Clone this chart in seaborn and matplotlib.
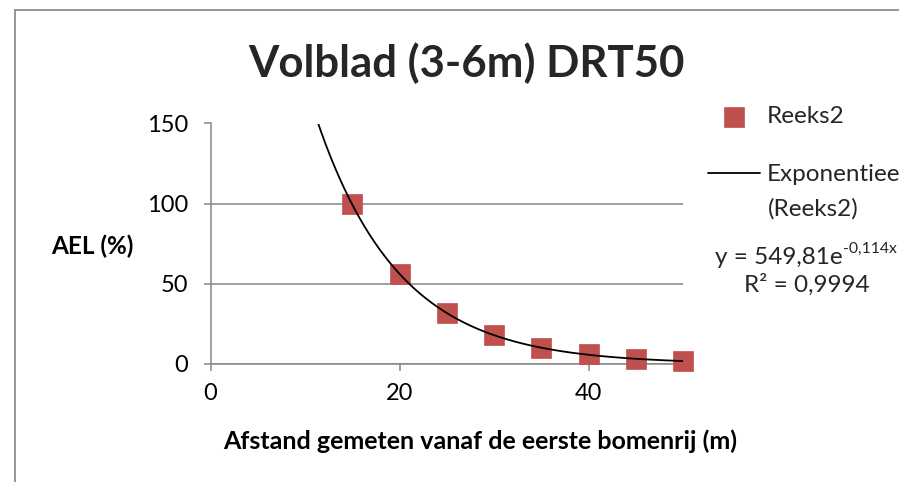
import numpy as np
import pandas as pd
import matplotlib.pyplot as plt
from matplotlib.lines import Line2D
import seaborn as sns

# data
afstand = [15, 20, 25, 30, 35, 40, 45, 50]
ael = [100, 56, 32, 18, 10, 6, 3.2, 1.9]

# exponential trendline as reported on the chart
fit_a = 549.81
fit_b = -0.114

x_ticks = [0, 20, 40]
y_ticks = [0, 50, 100, 150]

sns.set_theme(style='white')
plt.rcParams['font.family'] = ['Lato', 'DejaVu Sans']

red = '#C0504D'
grey = '#868686'

df = pd.DataFrame({'afstand': afstand, 'ael': ael})
trend_x = np.linspace(0, 50, 300)
trend = pd.DataFrame({'x': trend_x, 'y': fit_a * np.exp(fit_b * trend_x)})

fig = plt.figure(figsize=(8.99, 4.82), dpi=100)
ax = fig.add_axes([210.5 / 899, 1 - 364 / 482, (683 - 210.5) / 899, (364 - 123.5) / 482])

sns.scatterplot(data=df, x='afstand', y='ael', marker='s', s=205, color=red,
                edgecolor=red, linewidth=0.5, ax=ax, zorder=3, label='Reeks2',
                clip_on=False)
sns.lineplot(data=trend, x='x', y='y', color='black', linewidth=1.3, ax=ax,
             zorder=4, label='Exponentieel')

ax.set_xlim(0, 50)
ax.set_ylim(0, 150)
ax.set_xticks(x_ticks)
ax.set_yticks(y_ticks)
ax.yaxis.grid(True, color=grey, linewidth=1.1)
ax.set_axisbelow(True)
for s in ['top', 'right']:
    ax.spines[s].set_visible(False)
for s in ['left', 'bottom']:
    ax.spines[s].set_color(grey)
    ax.spines[s].set_linewidth(1.1)
ax.tick_params(axis='both', direction='out', length=5, width=1.1, color=grey,
               labelsize=17, labelcolor='black', left=True, bottom=True)
ax.tick_params(axis='x', pad=9)
ax.tick_params(axis='y', pad=11)

ax.set_xlabel('Afstand gemeten vanaf de eerste bomenrij (m)', fontsize=18,
              fontweight='bold', color='black', va='center')
ax.xaxis.set_label_coords((480 - 210.5) / 472.5, -(441 - 364) / 240.5)
ax.set_ylabel('AEL (%)', fontsize=17.5, fontweight='bold', color='black',
              rotation=0, va='center', ha='center')
ax.yaxis.set_label_coords((92 - 210.5) / 472.5, (364 - 246) / 240.5)

fig.text(466 / 899, 1 - 63 / 482, 'Volblad (3-6m) DRT50', fontsize=31.5,
         fontweight='bold', ha='center', va='center')

# legend as in the reference: the long label runs off the right edge
leg = ax.legend(loc='upper left', bbox_to_anchor=(708 / 899, 1 - 106 / 482),
                bbox_transform=fig.transFigure, frameon=False, fontsize=17.5,
                handlelength=2.15, handletextpad=0.25, labelspacing=1.53,
                borderpad=0, borderaxespad=0)
fig.text(768 / 899, 1 - 209 / 482, '(Reeks2)', fontsize=17.5,
         ha='left', va='center')

eq = fig.text(843 / 899, 1 - 258 / 482, 'y = 549,81e', fontsize=17.5,
              ha='right', va='center')
ax.annotate('-0,114x', xy=(1, 0.62), xycoords=eq, fontsize=11.3,
            ha='left', va='bottom', annotation_clip=False)
fig.text(807 / 899, 1 - 285 / 482, 'R² = 0,9994', fontsize=17.5,
         ha='center', va='center')

# chart area border
fig.add_artist(Line2D([15 / 899, 15 / 899], [0, 1 - 10 / 482], color='#8c8c8c',
                      linewidth=1.3, transform=fig.transFigure))
fig.add_artist(Line2D([15 / 899, 1], [1 - 10 / 482, 1 - 10 / 482], color='#8c8c8c',
                      linewidth=1.3, transform=fig.transFigure))

fig.savefig('out.png', dpi=100)
